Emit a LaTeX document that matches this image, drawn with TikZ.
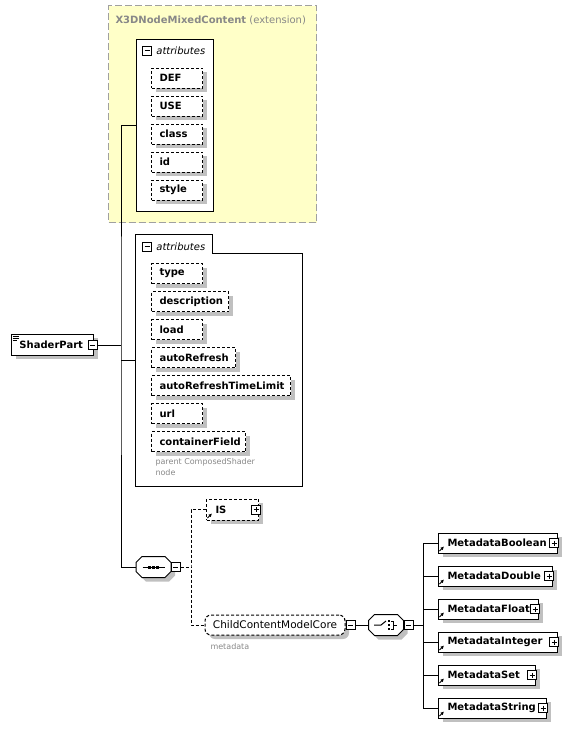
\documentclass[tikz,border=0pt]{standalone}
\usepackage{fontspec}
\setmainfont{DejaVu Sans}
\usetikzlibrary{positioning, arrows.meta}

\definecolor{extyellow}{RGB}{255,255,200}
\definecolor{extborder}{RGB}{160,160,160}
\definecolor{shadowgray}{RGB}{192,192,192}
\definecolor{notegray}{RGB}{136,136,136}

\tikzset{
  shadowed/.style={preaction={fill=shadowgray, draw=none, transform canvas={xshift=4pt, yshift=-4pt}}},
  attrbox/.style={draw, dash pattern=on 3pt off 2pt, fill=white, shadowed, font=\bfseries, minimum height=20pt, inner xsep=8pt, inner ysep=0pt, anchor=west, align=left},
  elembox/.style={draw, fill=white, shadowed, font=\bfseries, minimum height=20pt, inner xsep=9pt, inner ysep=0pt, anchor=west, align=left},
  groupbox/.style={draw, dash pattern=on 3pt off 2pt, rounded corners=6pt, fill=white, shadowed, minimum width=140pt, minimum height=20pt, inner sep=0pt, font=\fontsize{10.5}{12}\selectfont},
  compositor/.style={minimum width=34pt, minimum height=20pt, inner sep=0pt},
  octagon/.style={draw, fill=white, shadowed},
  minusbox/.style={draw, fill=white, minimum size=9pt, inner sep=0pt, line width=0.8pt,
    path picture={\draw ([xshift=2pt]path picture bounding box.west) -- ([xshift=-2pt]path picture bounding box.east);}},
  plusbox/.style={draw, fill=white, minimum size=9pt, inner sep=0pt, line width=0.8pt,
    path picture={\draw ([xshift=2pt]path picture bounding box.west) -- ([xshift=-2pt]path picture bounding box.east);
                  \draw ([yshift=-2pt]path picture bounding box.north) -- ([yshift=2pt]path picture bounding box.south);}},
  attrhead/.style={font=\itshape, inner sep=0pt},
  note/.style={font=\fontsize{8}{11}\selectfont, text=notegray, inner sep=0pt, align=left},
  refarrow/.style={line width=1pt, -{Latex[length=3.5pt, width=3.5pt]}},
}

\begin{document}
\begin{tikzpicture}[x=1pt, y=-1pt, line width=1pt, font=\fontsize{10}{12}\selectfont]
  \useasboundingbox (0,0) rectangle (585,729);

  % Basistyp (Erweiterung)
  \node (ext) [draw=extborder, dash pattern=on 7pt off 3pt, fill=extyellow, minimum width=208pt, minimum height=217pt, anchor=north west] at (108,5) {};
  \node (exttitle) [anchor=west, text=notegray, inner sep=0pt] at (115,20) {\textbf{X3DNodeMixedContent} (extension)};

  % Attribute der Basis
  \node (attrA) [draw, fill=white, minimum width=77pt, minimum height=172pt] at (174.5,125) {};
  \node (attrAminus) [minusbox] at (147,50.5) {};
  \node (attrAhead) [attrhead, right=4pt of attrAminus] {attributes};
  \foreach \nm [count=\i] in {DEF,USE,class,id,style}
    \node (a\nm) [attrbox, text width=35pt] at (151,50+28*\i) {\nm};

  % eigene Attribute
  \node (attrB) [minimum width=166pt, minimum height=251pt, inner sep=0pt] at (219,360.5) {};
  \draw (attrB.south west) -- (attrB.north west) -- ++(77,0) -- ++(0,19) -| (attrB.south east) -- cycle;
  \node (attrBminus) [minusbox] at (147,246.5) {};
  \node (attrBhead) [attrhead, right=4pt of attrBminus] {attributes};
  \foreach \nm/\w [count=\i] in {type/51, description/77, load/51, autoRefresh/84, autoRefreshTimeLimit/139, url/51, containerField/94} {
    \pgfmathsetmacro\tw{\w-16}
    \node (b\nm) [attrbox, text width=\tw pt] at (151,245.5+28*\i) {\nm};
  }
  \node (bnote) [note, anchor=north west] at (155,458) {parent ComposedShader\\node};

  % Element ShaderPart
  \node (shader) [elembox, inner xsep=8pt, text width=66pt, minimum height=21pt] at (11,344.5) {ShaderPart};
  \node (shaderminus) [minusbox] at (92.5,345) {};
  \foreach \dy/\len in {0/6, 2/6, 4/4}
    \draw [line width=0.6pt] ([shift={(1.5,3+\dy)}]shader.north west) -- ++(\len,0);

  % Inhaltsmodell: Sequenz
  \node (seq) [compositor] at (153.5,567) {};
  \draw [octagon] ([xshift=6pt]seq.north west) -- ([xshift=-6pt]seq.north east) -- ([yshift=-6pt]seq.north east)
    -- ([yshift=6pt]seq.south east) -- ([xshift=-6pt]seq.south east) -- ([xshift=6pt]seq.south west)
    -- ([yshift=6pt]seq.south west) -- ([yshift=-6pt]seq.north west) -- cycle;
  \node (seqminus) [minusbox, right=0pt of seq] {};
  \draw ([xshift=-11pt]seq.center) -- ([xshift=11pt]seq.center);
  \foreach \dx in {-4,0,4}
    \fill ([xshift=\dx pt]seq.center) +(-1.5,-1.5) rectangle +(1.5,1.5);

  \node (is) [attrbox, inner xsep=9pt, text width=34pt, minimum height=21pt] at (206,509.5) {IS};
  \node (isplus) [plusbox] at ([xshift=-3pt]is.east) {};
  \draw [refarrow] ([shift={(1.5,-2.5)}]is.south west) -- ++(4.5,-4.5);

  \node (ccmc) [groupbox] at (275,625) {ChildContentModelCore};
  \node (ccmcminus) [minusbox, right=0pt of ccmc] {};
  \node (ccmcnote) [note, anchor=west] at (210,647) {metadata};

  % Inhaltsmodell: Auswahl
  \node (choice) [compositor] at (386,625) {};
  \draw [octagon] ([xshift=6pt]choice.north west) -- ([xshift=-6pt]choice.north east) -- ([yshift=-6pt]choice.north east)
    -- ([yshift=6pt]choice.south east) -- ([xshift=-6pt]choice.south east) -- ([xshift=6pt]choice.south west)
    -- ([yshift=6pt]choice.south west) -- ([yshift=-6pt]choice.north west) -- cycle;
  \node (choiceminus) [minusbox, right=0pt of choice] {};
  \draw ([xshift=-12pt]choice.center) -- ([xshift=-5pt]choice.center) -- ++(5,-4);
  \foreach \dy in {-4,0,4}
    \fill ([shift={(3,\dy)}]choice.center) +(-1.3,-1.3) rectangle +(1.3,1.3);
  \draw [line width=0.8pt] ([shift={(5,-4)}]choice.center) -- ++(2,0) -- ++(0,8) -- ++(-2,0);
  \draw [line width=0.8pt] ([shift={(7,0)}]choice.center) -- ++(4,0);

  % Metadata-Elemente
  \coordinate (branch) at (423,625);
  \foreach \nm/\w [count=\i] in {Boolean/119, Double/114, Float/100, Integer/119, Set/97, String/108} {
    \pgfmathsetmacro\tw{\w-18}
    \node (m\nm) [elembox, text width=\tw pt] at (438,510+33*\i) {Metadata\nm};
    \node (m\nm plus) [plusbox] at ([xshift=-4pt]m\nm.east) {};
    \draw [refarrow] ([shift={(1.5,-2.5)}]m\nm.south west) -- ++(4.5,-4.5);
    \draw (m\nm.west) -- (m\nm.west -| branch);
  }

  % Verbindungen
  \coordinate (trunk) at (121,345);
  \coordinate (split) at (191,567);
  \draw (shaderminus.east) -- (trunk);
  \draw (attrA.west) -| (trunk) |- (seq.west);
  \draw (attrB.west) -- (attrB.west -| trunk);
  \draw [dash pattern=on 3pt off 2pt] (seqminus.east) -- (split);
  \draw [dash pattern=on 3pt off 2pt] (is.west) -| (split) |- (ccmc.west);
  \draw (ccmcminus.east) -- (choice.west);
  \draw (choiceminus.east) -- (branch);
  \draw (mBoolean.west -| branch) -- (mString.west -| branch);
\end{tikzpicture}
\end{document}
